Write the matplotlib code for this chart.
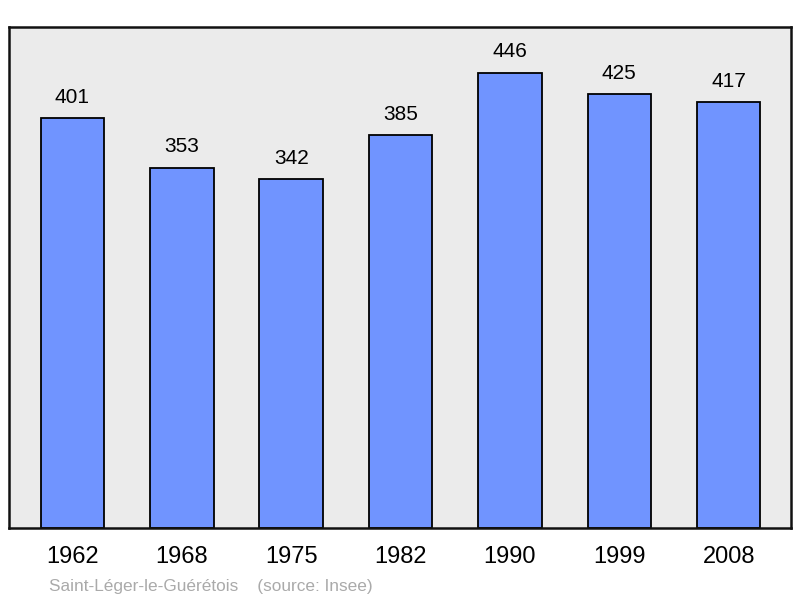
import matplotlib
matplotlib.use("Agg")
import matplotlib.pyplot as plt

years = ["1962", "1968", "1975", "1982", "1990", "1999", "2008"]
population = [401, 353, 342, 385, 446, 425, 417]
title_text = "Saint-Léger-le-Guérétois    (source: Insee)"

plt.rcParams['font.family'] = ['Liberation Sans', 'DejaVu Sans']

fig = plt.figure(figsize=(8.0, 5.98), dpi=100)
ax = fig.add_axes([9/800, 70/598, 782/800, 501/598])
ax.set_facecolor('#ebebeb')

x = list(range(len(years)))
bars = ax.bar(x, population, width=0.58, color='#7094ff', edgecolor='black', linewidth=1.3, zorder=2)
for xi, v in zip(x, population):
    ax.annotate(str(v), (xi, v), xytext=(0, 8), textcoords='offset points',
                ha='center', va='bottom', fontsize=15, color='black')

ax.set_xlim(-0.58, len(years) - 1 + 0.57)
ax.set_ylim(0, max(population) * 1.1)
ax.set_yticks([])
ax.set_xticks(x)
ax.set_xticklabels(years, fontsize=17)
ax.tick_params(axis='x', length=0, pad=13)
for s in ax.spines.values():
    s.set_linewidth(1.8)
    s.set_color('#111111')

fig.text(49/800, 1 - 586/598, title_text, fontsize=12.4, color='#aaaaaa', ha='left', va='center')

fig.savefig('out.png', dpi=100)
